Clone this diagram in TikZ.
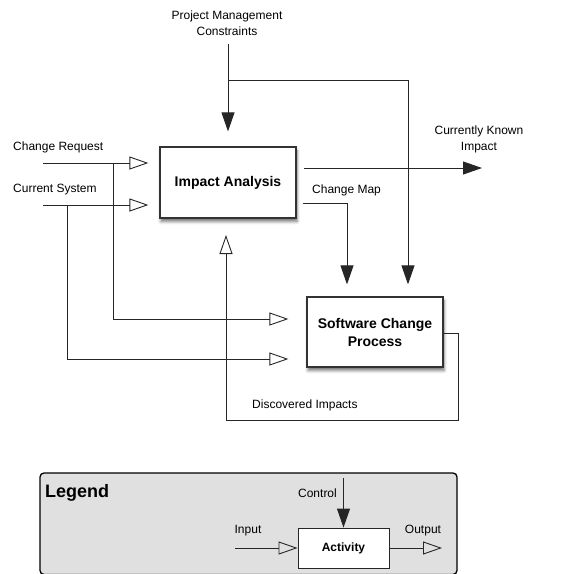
\documentclass[tikz,border=0pt]{standalone}
\usepackage{fontspec}
\setmainfont{Liberation Sans}
\usetikzlibrary{arrows.meta,shadows.blur}

\tikzset{
  lbl/.style={inner sep=0pt, font=\fontsize{12}{15.5}\selectfont, align=center},
  activity/.style={draw=black!80, line width=1.2pt, fill=white, inner sep=0pt,
    font=\fontsize{14}{18}\selectfont\bfseries, align=center,
    blur shadow={shadow xshift=1pt, shadow yshift=-3.5pt, shadow blur radius=3pt, shadow opacity=55}},
  flow/.style={draw=black!85, line width=0.9pt},
  inarrow/.style={flow, -{Triangle[open, length=19pt, width=13pt]}},
  ctrlarrow/.style={flow, -{Triangle[length=19pt, width=13pt]}},
}

\begin{document}
\begin{tikzpicture}[x=1pt, y=-1pt]
  \useasboundingbox (0,0) rectangle (568,574);

  % activities
  \node[activity, minimum width=136pt, minimum height=71pt] (ia) at (228,182.5) {Impact Analysis};
  \node[activity, minimum width=136pt, minimum height=70pt] (scp) at (375,332) {Software Change\\Process};

  % labels
  \node[lbl] (pmc) at (227,23) {Project Management\\Constraints};
  \node[lbl] (cki) at (479,139.5) {Currently Known\\Impact};
  \node[lbl, anchor=west] (crl) at (13,147) {Change Request};
  \node[lbl, anchor=west] (csl) at (13,190) {Current System};
  \node[lbl, anchor=west] (cml) at (312,190) {Change Map};
  \node[lbl, anchor=west] (dil) at (252,405) {Discovered Impacts};

  % control: project management constraints
  \coordinate (pmtop) at (228,44);
  \coordinate (pmsplit) at (228,80);
  \coordinate (pmright) at (408,80);
  \draw[ctrlarrow, shorten >=15pt] (pmtop) -- (ia.north);
  \draw[ctrlarrow, shorten >=12pt] (pmsplit) -- (pmright) -- (pmright |- scp.north);

  % inputs
  \coordinate (crin) at (43,163);
  \coordinate (csin) at (43,205);
  \coordinate (crsplit) at (113,163);
  \coordinate (cssplit) at (67,205);
  \coordinate (crdown) at (113,319);
  \coordinate (csdown) at (67,359);
  \draw[inarrow, shorten >=11pt] (crin) -- (crin -| ia.west);
  \draw[inarrow, shorten >=11pt] (csin) -- (csin -| ia.west);
  \draw[inarrow, shorten >=18pt] (crsplit) -- (crdown) -- (crdown -| scp.west);
  \draw[inarrow, shorten >=18pt] (cssplit) -- (csdown) -- (csdown -| scp.west);

  % outputs
  \coordinate (ckistart) at (304,168);
  \coordinate (ckiend) at (482,168);
  \draw[ctrlarrow] (ckistart) -- (ckiend);
  \coordinate (cmstart) at (303,203);
  \coordinate (cmcorner) at (347,203);
  \draw[ctrlarrow, shorten >=12pt] (cmstart) -- (cmcorner) -- (cmcorner |- scp.north);

  % feedback: discovered impacts
  \coordinate (d1) at (458,333);
  \coordinate (d2) at (458,420);
  \coordinate (d3) at (226,420);
  \coordinate (d4) at (226,218);
  \draw[inarrow, shorten >=17pt] (d1 -| scp.east) -- (d1) -- (d2) -- (d3) -- (d4);

  % legend
  \draw[draw=black, line width=1.3pt, fill=black!12, rounded corners=4pt] (40,473) rectangle (457,574.5);
  \node[anchor=west, inner sep=0pt, font=\fontsize{18}{20}\selectfont\bfseries] (lg) at (45,493) {Legend};
  \node[draw=black!85, line width=0.9pt, fill=white, minimum width=91pt, minimum height=40pt, inner sep=0pt,
    font=\fontsize{12}{14}\selectfont\bfseries] (act) at (343.5,548) {Activity};
  \node[lbl] (ctl) at (317.5,493) {Control};
  \node[lbl] (inl) at (248,531) {Input};
  \node[lbl] (outl) at (423,531) {Output};
  \coordinate (ctltop) at (343.5,478);
  \coordinate (inl0) at (235,548);
  \coordinate (outend) at (442,548);
  \draw[ctrlarrow] (ctltop) -- (act.north);
  \draw[inarrow] (inl0) -- (act.west);
  \draw[inarrow] (act.east) -- (outend);
\end{tikzpicture}
\end{document}
